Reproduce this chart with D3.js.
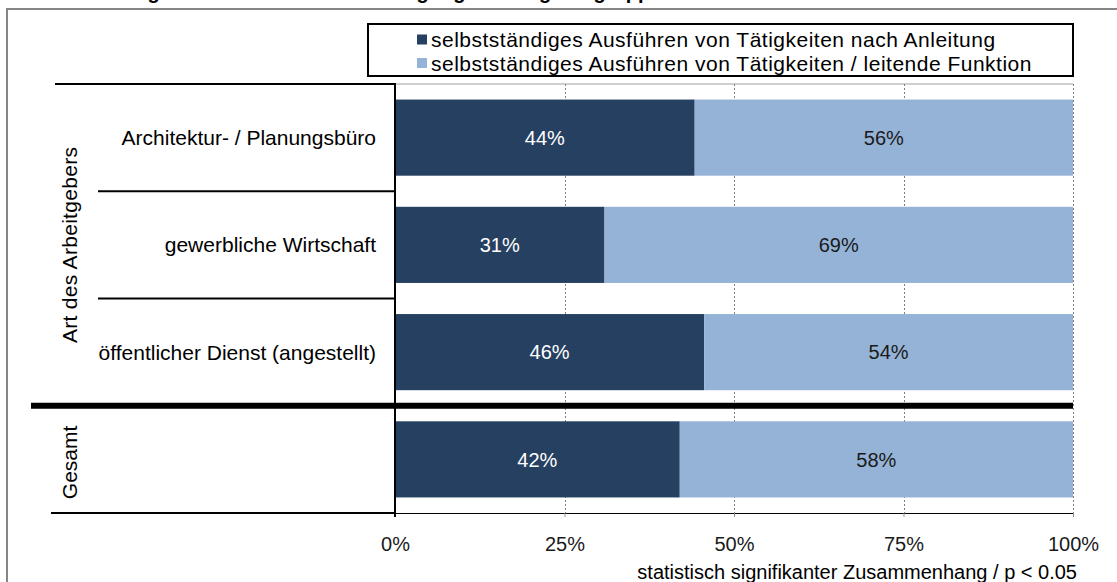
<!DOCTYPE html>
<html>
<head>
<meta charset="utf-8">
<script src="https://cdn.jsdelivr.net/npm/d3@7"></script>
<style>
  body { margin: 0; background: #fff; }
  svg { display: block; font-family: "Liberation Sans", Arial, sans-serif; }
</style>
</head>
<body>
<svg width="1117" height="582"></svg>
<script>
const title = 'Tätigkeitsniveau nach Beschäftigung / Arbeitgebergruppe';
const categories = ['Architektur- / Planungsbüro', 'gewerbliche Wirtschaft', 'öffentlicher Dienst (angestellt)', 'Gesamt'];
const rowLabels = ['Architektur- / Planungsbüro', 'gewerbliche Wirtschaft', 'öffentlicher Dienst (angestellt)', ''];
const seriesNames = ['selbstständiges Ausführen von Tätigkeiten nach Anleitung', 'selbstständiges Ausführen von Tätigkeiten / leitende Funktion'];
const anleitung = [44.2, 30.9, 45.6, 42.0];
const leitend = [55.8, 69.1, 54.4, 58.0];
const tickValues = [0, 25, 50, 75, 100];
const groupLabel = 'Art des Arbeitgebers';
const totalLabel = 'Gesamt';
const footnote = 'statistisch signifikanter Zusammenhang / p < 0.05';

const colors = ['#254061', '#95b3d7'];
const labelColors = ['#ffffff', '#1a1a1a'];

const svg = d3.select('svg');

const x = d3.scaleLinear().domain([0, 100]).range([395, 1073]);
const y = d3.scaleBand()
  .domain(categories)
  .range([84, 513])
  .paddingInner(0.29)
  .paddingOuter(0.145);
const step = y.step();
const bandTop = c => y(c) - y.paddingOuter() * step;

// outer frame (runs off the right / bottom edge)
svg.append('rect')
  .attr('x', 7).attr('y', 9)
  .attr('width', 1130).attr('height', 600)
  .attr('fill', 'none')
  .attr('stroke', '#868686')
  .attr('stroke-width', 2);

// title, mostly cut off at the top
svg.append('text')
  .attr('x', 112).attr('y', -1)
  .attr('font-size', 20).attr('font-weight', 'bold')
  .text(title);

// plot top border
svg.append('line')
  .attr('x1', x(0)).attr('x2', x(100))
  .attr('y1', 84).attr('y2', 84)
  .attr('stroke', '#a0a0a0').attr('stroke-width', 1);

// gridlines
svg.append('g')
  .selectAll('line')
  .data(tickValues.filter(d => d > 0))
  .join('line')
  .attr('x1', d => Math.round(x(d)) + 0.5)
  .attr('x2', d => Math.round(x(d)) + 0.5)
  .attr('y1', 84).attr('y2', 513)
  .attr('stroke', '#808080')
  .attr('stroke-dasharray', '2,2');

// stacked series
const stacked = categories.map((c, i) => ({cat: c, values: [anleitung[i], leitend[i]]}));
const segs = [];
stacked.forEach(d => {
  let acc = 0;
  d.values.forEach((v, k) => {
    segs.push({cat: d.cat, k: k, x0: acc, x1: acc + v, v: v});
    acc += v;
  });
});

svg.append('g')
  .selectAll('rect')
  .data(segs)
  .join('rect')
  .attr('x', d => x(d.x0))
  .attr('width', d => x(d.x1) - x(d.x0))
  .attr('y', d => y(d.cat))
  .attr('height', y.bandwidth())
  .attr('fill', d => colors[d.k]);

svg.append('g')
  .selectAll('text')
  .data(segs)
  .join('text')
  .attr('x', d => (x(d.x0) + x(d.x1)) / 2)
  .attr('y', d => y(d.cat) + y.bandwidth() / 2)
  .attr('dy', '0.36em')
  .attr('text-anchor', 'middle')
  .attr('font-size', 20)
  .attr('fill', d => labelColors[d.k])
  .text(d => Math.round(d.v) + '%');

// x axis
const xAxis = svg.append('g')
  .attr('transform', 'translate(0,513)')
  .call(d3.axisBottom(x)
    .tickValues(tickValues)
    .tickFormat(d => d + '%')
    .tickSize(4)
    .tickPadding(20));
xAxis.select('.domain').attr('stroke', '#000');
xAxis.selectAll('.tick line').attr('stroke', '#909090');
xAxis.selectAll('.tick text')
  .attr('font-size', 20)
  .attr('font-family', '"Liberation Sans", Arial, sans-serif')
  .attr('fill', '#1a1a1a');

// row labels
svg.append('g')
  .selectAll('text')
  .data(categories)
  .join('text')
  .attr('x', 376)
  .attr('y', c => bandTop(c) + step / 2)
  .attr('dy', '0.36em')
  .attr('text-anchor', 'end')
  .attr('font-size', 21)
  .text((c, i) => rowLabels[i]);

// bracket lines of the category table
const lines = [
  {x1: 55, y: bandTop(categories[0]), w: 2},
  {x1: 98, y: bandTop(categories[1]), w: 2},
  {x1: 98, y: bandTop(categories[2]), w: 2},
  {x1: 51, y: 513, w: 2}
];
svg.append('g')
  .selectAll('line')
  .data(lines)
  .join('line')
  .attr('x1', d => d.x1).attr('x2', x(0))
  .attr('y1', d => d.y).attr('y2', d => d.y)
  .attr('stroke', '#000')
  .attr('stroke-width', d => d.w);

// vertical axis line
svg.append('line')
  .attr('x1', x(0)).attr('x2', x(0))
  .attr('y1', 83).attr('y2', 517)
  .attr('stroke', '#000').attr('stroke-width', 2);

// thick separator before "Gesamt"
svg.append('line')
  .attr('x1', 31).attr('x2', x(100))
  .attr('y1', bandTop(categories[3])).attr('y2', bandTop(categories[3]))
  .attr('stroke', '#000').attr('stroke-width', 6);

// rotated group labels
const groupMid = (bandTop(categories[0]) + bandTop(categories[3])) / 2;
svg.append('text')
  .attr('transform', `translate(77,${groupMid}) rotate(-90)`)
  .attr('text-anchor', 'middle')
  .attr('font-size', 21)
  .attr('letter-spacing', 0.3)
  .text(groupLabel);
svg.append('text')
  .attr('transform', `translate(77,${bandTop(categories[3]) + step / 2 + 3}) rotate(-90)`)
  .attr('text-anchor', 'middle')
  .attr('font-size', 21)
  .text(totalLabel);

// legend
const legend = svg.append('g');
legend.append('rect')
  .attr('x', 368).attr('y', 24)
  .attr('width', x(100) - 368).attr('height', 52)
  .attr('fill', '#fff')
  .attr('stroke', '#000').attr('stroke-width', 2);
const items = legend.selectAll('g')
  .data(seriesNames)
  .join('g')
  .attr('transform', (d, i) => `translate(417,${39.5 + i * 23.5})`);
items.append('rect')
  .attr('x', 0).attr('y', -5)
  .attr('width', 10).attr('height', 10)
  .attr('fill', (d, i) => colors[i]);
items.append('text')
  .attr('x', 14)
  .attr('dy', '0.36em')
  .attr('font-size', 21)
  .attr('letter-spacing', 0.5)
  .text(d => d);

// footnote
svg.append('text')
  .attr('x', 1077).attr('y', 579)
  .attr('text-anchor', 'end')
  .attr('font-size', 20)
  .text(footnote);
</script>
</body>
</html>
